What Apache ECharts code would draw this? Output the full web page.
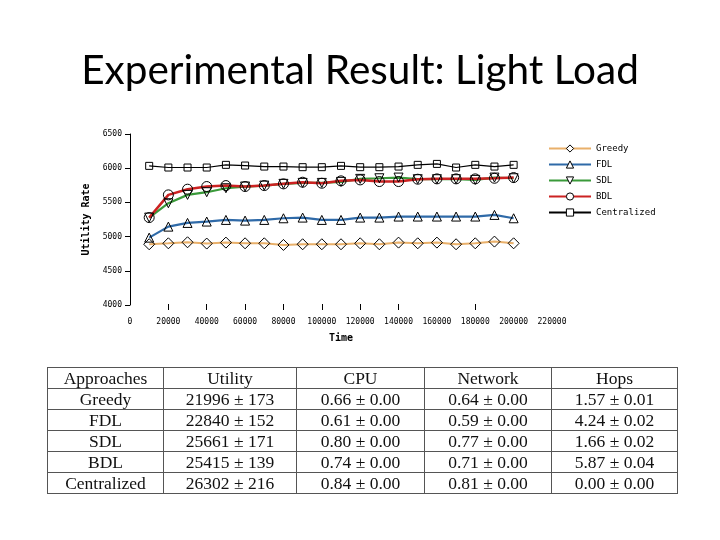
<!DOCTYPE html>
<html>
<head>
<meta charset="utf-8">
<script src="https://cdn.jsdelivr.net/npm/echarts@6/dist/echarts.min.js"></script>
<style>
  html, body { margin: 0; padding: 0; background: #fff; }
  #chart { position: absolute; left: 0; top: 0; width: 720px; height: 540px; }
  #tbl { position: absolute; left: 47px; top: 367px; border-collapse: collapse;
         font-family: "Liberation Serif", "DejaVu Serif", serif; font-size: 17.5px; color: #111; }
  #tbl td { border: 1px solid #555; text-align: center; padding: 0; height: 20px; line-height: 20px; }
</style>
</head>
<body>
<div id="chart"></div>
<table id="tbl"></table>
<script>
// ---- chart data ----
const timeValues = [10000,20000,30000,40000,50000,60000,70000,80000,90000,100000,110000,120000,130000,140000,150000,160000,170000,180000,190000,200000];
const greedy  = [4888,4902,4917,4898,4912,4902,4902,4878,4888,4888,4888,4902,4888,4912,4902,4912,4888,4902,4927,4902];
const fdl     = [4985,5146,5200,5220,5244,5234,5244,5268,5278,5244,5244,5278,5278,5293,5293,5293,5293,5293,5317,5268];
const sdl     = [5278,5488,5610,5649,5707,5732,5746,5771,5785,5785,5800,5844,5853,5863,5839,5839,5839,5829,5863,5853];
const bdl     = [5278,5610,5693,5732,5746,5732,5746,5771,5795,5780,5815,5829,5805,5805,5839,5844,5844,5844,5853,5863];
const central = [6034,6010,6010,6010,6049,6039,6024,6024,6015,6015,6034,6015,6015,6024,6049,6063,6010,6049,6024,6049];
const seriesNames = ['Greedy','FDL','SDL','BDL','Centralized'];
const xTickValues = [20000,40000,60000,80000,100000,120000,140000,180000];

// ---- table data ----
const tableHeader = ['Approaches','Utility','CPU','Network','Hops'];
const approaches = ['Greedy','FDL','SDL','BDL','Centralized'];
const utilityCol = ['21996 ± 173','22840 ± 152','25661 ± 171','25415 ± 139','26302 ± 216'];
const cpuCol     = ['0.66 ± 0.00','0.61 ± 0.00','0.80 ± 0.00','0.74 ± 0.00','0.84 ± 0.00'];
const networkCol = ['0.64 ± 0.00','0.59 ± 0.00','0.77 ± 0.00','0.71 ± 0.00','0.81 ± 0.00'];
const hopsCol    = ['1.57 ± 0.01','4.24 ± 0.02','1.66 ± 0.02','5.87 ± 0.04','0.00 ± 0.00'];

const colWidths = [115, 132, 127, 126, 125];
const tbl = document.getElementById('tbl');
function addRow(cells) {
  const tr = document.createElement('tr');
  cells.forEach((c, i) => {
    const td = document.createElement('td');
    td.textContent = c;
    td.style.width = colWidths[i] + 'px';
    tr.appendChild(td);
  });
  tbl.appendChild(tr);
}
addRow(tableHeader);
approaches.forEach((a, i) => addRow([a, utilityCol[i], cpuCol[i], networkCol[i], hopsCol[i]]));

const pts = arr => arr.map((v, i) => [timeValues[i], v]);
const pixFont = '"DejaVu Sans Mono", monospace';
const plain = v => String(v);

function mk(name, data, color, width, symbol, size, rotate) {
  return {
    name, type: 'line', data: pts(data),
    symbol, symbolSize: size, symbolRotate: rotate || 0,
    showSymbol: true,
    lineStyle: { color, width },
    itemStyle: { color: 'rgba(255,255,255,0)', borderColor: '#000', borderWidth: 1 },
    emphasis: { disabled: true },
    z: 2
  };
}

const chart = echarts.init(document.getElementById('chart'), null, { renderer: 'canvas' });
chart.setOption({
  animation: false,
  backgroundColor: '#fff',
  title: {
    text: 'Experimental Result: Light Load',
    left: 'center', top: 45,
    textStyle: { fontFamily: 'Lato, "Open Sans", sans-serif', fontWeight: 'normal', fontSize: 40.5, color: '#000' }
  },
  legend: {
    data: seriesNames,
    orient: 'vertical',
    left: 543, top: 139,
    itemWidth: 42, itemHeight: 9, itemGap: 7,
    itemStyle: { color: '#fff', borderColor: '#000', borderWidth: 1 },
    textStyle: { fontFamily: pixFont, fontSize: 9, color: '#000' },
    inactiveColor: '#000'
  },
  grid: { left: 130, top: 134, width: 422, height: 171, containLabel: false },
  xAxis: {
    type: 'value', min: 0, max: 220000, interval: 20000,
    name: 'Time', nameLocation: 'middle', nameGap: 23,
    nameTextStyle: { fontFamily: pixFont, fontSize: 10, fontWeight: 'bold', color: '#000' },
    offset: 5,
    axisLine: { show: false },
    axisTick: { show: true, inside: true, length: 6, customValues: xTickValues, lineStyle: { color: '#000' } },
    axisLabel: { fontFamily: pixFont, fontSize: 8, color: '#000', margin: 8, formatter: plain, hideOverlap: false },
    splitLine: { show: false }
  },
  yAxis: {
    type: 'value', min: 4000, max: 6500, interval: 500,
    name: 'Utility Rate', nameLocation: 'middle', nameGap: 38, nameRotate: 90,
    nameTextStyle: { fontFamily: pixFont, fontSize: 10, fontWeight: 'bold', color: '#000' },
    axisLine: { show: true, lineStyle: { color: '#000', width: 1 } },
    axisTick: { show: true, inside: false, length: 5, lineStyle: { color: '#000' } },
    axisLabel: { fontFamily: pixFont, fontSize: 8, color: '#000', margin: 8, formatter: plain },
    splitLine: { show: false }
  },
  series: [
    mk('Greedy', greedy, '#e9b06a', 2, 'diamond', 11),
    mk('FDL', fdl, '#2f6aa8', 2.2, 'triangle', 9),
    mk('SDL', sdl, '#3a9a3a', 2.2, 'triangle', 9, 180),
    mk('BDL', bdl, '#cc2222', 2.5, 'circle', 10),
    mk('Centralized', central, '#000000', 1.2, 'rect', 7)
  ]
});
</script>
</body>
</html>
